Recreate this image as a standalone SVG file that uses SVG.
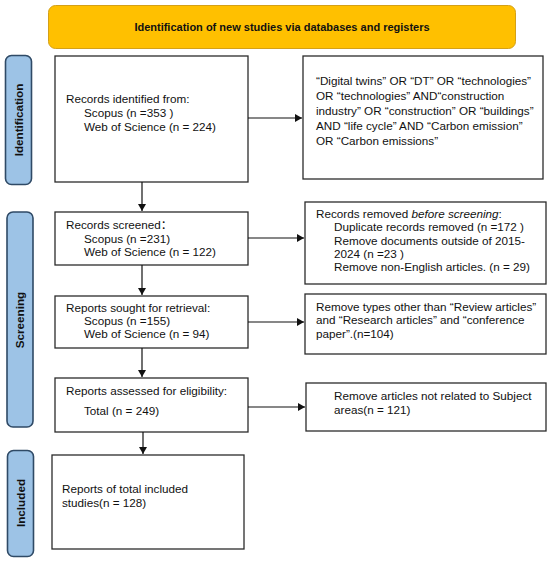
<svg xmlns="http://www.w3.org/2000/svg" width="550" height="563" viewBox="0 0 550 563">
<defs>
<style>
.t{font-family:"Liberation Sans",Arial,"Noto Sans CJK SC",sans-serif;font-size:11.7px;fill:#111}
.b{font-weight:bold}
.box{fill:#fff;stroke:#2b2b2b;stroke-width:1.3}
.tab{fill:#9DC3E6;stroke:#2f4a66;stroke-width:1.6}
.ln{stroke:#111;stroke-width:1.2;fill:none}
</style>
<marker id="ah" markerWidth="8" markerHeight="8" refX="7" refY="4" orient="auto" markerUnits="userSpaceOnUse">
<path d="M0,0 L7,4 L0,8 Z" fill="#111"/>
</marker>
</defs>
<rect width="550" height="563" fill="#fff"/>

<g id="banner">
<rect x="48.5" y="5.5" width="467" height="43" rx="7" fill="#FFC000" stroke="#D4A017" stroke-width="1"/>
<text class="t b" x="282" y="31" text-anchor="middle" style="font-size:11px">Identification of new studies via databases and registers</text>
</g>

<g id="tab-identification">
<rect class="tab" x="5.5" y="55.5" width="26" height="129" rx="6"/>
<text class="t b" transform="translate(22.5,120) rotate(-90)" text-anchor="middle">Identification</text>
</g>
<g id="tab-screening">
<rect class="tab" x="7" y="212" width="26" height="215" rx="6"/>
<text class="t b" transform="translate(24,320) rotate(-90)" text-anchor="middle">Screening</text>
</g>
<g id="tab-included">
<rect class="tab" x="7.5" y="450.5" width="26" height="106" rx="6"/>
<text class="t b" transform="translate(24.5,503) rotate(-90)" text-anchor="middle">Included</text>
</g>

<g id="identified">
<rect class="box" x="55" y="56" width="193" height="126"/>
<text class="t" x="66" y="103">Records identified from:</text>
<text class="t" x="84" y="117">Scopus (n =353 )</text>
<text class="t" x="84" y="131">Web of Science (n = 224)</text>
</g>

<g id="search-terms">
<rect class="box" x="303" y="56" width="240" height="123"/>
<text class="t" x="316" y="85">“Digital twins” OR “DT” OR “technologies”</text>
<text class="t" x="316" y="100">OR “technologies” AND“construction</text>
<text class="t" x="316" y="115">industry” OR “construction” OR “buildings”</text>
<text class="t" x="316" y="130">AND “life cycle” AND “Carbon emission”</text>
<text class="t" x="316" y="145">OR “Carbon emissions”</text>
</g>

<g id="screened">
<rect class="box" x="55" y="212" width="193" height="53"/>
<text class="t" x="66" y="229">Records screened：</text>
<text class="t" x="84" y="243">Scopus (n =231)</text>
<text class="t" x="84" y="256">Web of Science (n = 122)</text>
</g>

<g id="removed-before">
<rect class="box" x="305" y="202" width="241" height="82"/>
<text class="t" x="316" y="218">Records removed <tspan font-style="italic">before screening</tspan>:</text>
<text class="t" x="334" y="231">Duplicate records removed  (n =172 )</text>
<text class="t" x="334" y="245">Remove documents outside of 2015-</text>
<text class="t" x="334" y="258">2024 (n =23 )</text>
<text class="t" x="334" y="271">Remove non-English articles. (n = 29)</text>
</g>

<g id="sought">
<rect class="box" x="55" y="296" width="193" height="52"/>
<text class="t" x="66" y="312">Reports sought for retrieval:</text>
<text class="t" x="84" y="325">Scopus (n =155)</text>
<text class="t" x="84" y="338">Web of Science (n = 94)</text>
</g>

<g id="removed-types">
<rect class="box" x="305" y="294" width="241" height="60"/>
<text class="t" x="316" y="311">Remove types other than “Review articles”</text>
<text class="t" x="316" y="324">and “Research articles”  and “conference</text>
<text class="t" x="316" y="338">paper”.(n=104)</text>
</g>

<g id="assessed">
<rect class="box" x="55" y="378" width="193" height="54"/>
<text class="t" x="66" y="395">Reports assessed for eligibility:</text>
<text class="t" x="84" y="415">Total (n = 249)</text>
</g>

<g id="removed-subject">
<rect class="box" x="306" y="383" width="240" height="48"/>
<text class="t" x="334" y="400">Remove articles not related to Subject</text>
<text class="t" x="334" y="414">areas(n = 121)</text>
</g>

<g id="included">
<rect class="box" x="52" y="455" width="192" height="94"/>
<text class="t" x="62" y="493">Reports of total included</text>
<text class="t" x="62" y="507">studies(n = 128)</text>
</g>

<g id="connectors">
<line class="ln" x1="248" y1="118" x2="302" y2="118" marker-end="url(#ah)"/>
<line class="ln" x1="142" y1="182" x2="142" y2="211" marker-end="url(#ah)"/>
<line class="ln" x1="248" y1="238" x2="304" y2="238" marker-end="url(#ah)"/>
<line class="ln" x1="142" y1="265" x2="142" y2="295" marker-end="url(#ah)"/>
<line class="ln" x1="248" y1="322" x2="304" y2="322" marker-end="url(#ah)"/>
<line class="ln" x1="142" y1="348" x2="142" y2="377" marker-end="url(#ah)"/>
<line class="ln" x1="248" y1="407" x2="305" y2="407" marker-end="url(#ah)"/>
<line class="ln" x1="143" y1="432" x2="143" y2="454" marker-end="url(#ah)"/>
</g>
</svg>
